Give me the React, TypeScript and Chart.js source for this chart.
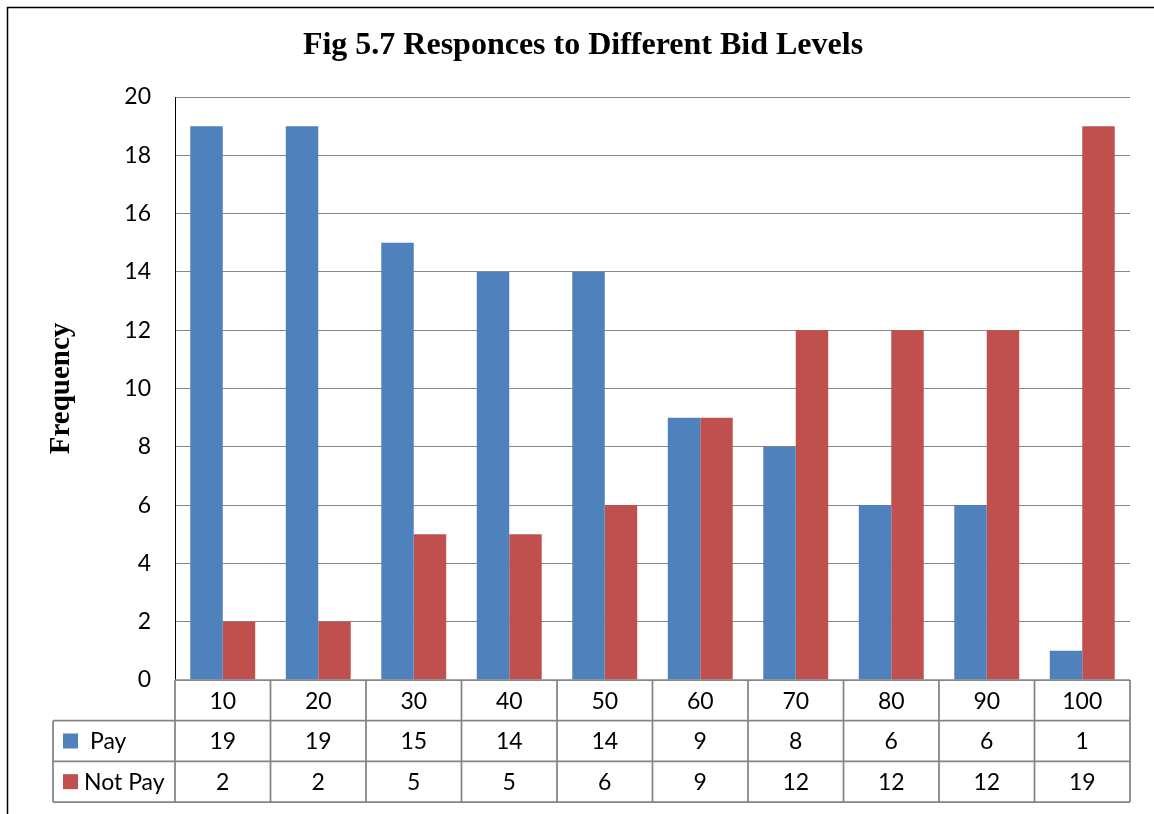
import React, { useEffect, useRef } from "react";
import { Chart, registerables } from "chart.js";

Chart.register(...registerables);

// Bid levels offered and the number of respondents for each answer
const bidLevels = ["10", "20", "30", "40", "50", "60", "70", "80", "90", "100"];
const payCounts = [19, 19, 15, 14, 14, 9, 8, 6, 6, 1];
const notPayCounts = [2, 2, 5, 5, 6, 9, 12, 12, 12, 19];
const seriesNames = ["Pay", "Not Pay"];

const yMin = 0;
const yMax = 20;
const yStep = 2;

const PAY_COLOR = "#4F81BD";
const NOT_PAY_COLOR = "#C0504D";
const TABLE_LINE = "#858585";
const GRID_LINE = "#878787";
const SANS = "Lato, 'Open Sans', sans-serif";
const SERIF = "'Liberation Serif', 'Times New Roman', serif";

const W = 1154;
const H = 814;

// Page frame and white background
const framePlugin = {
  id: "frame",
  beforeDraw(chart: any) {
    const { ctx } = chart;
    ctx.save();
    ctx.fillStyle = "#ffffff";
    ctx.fillRect(0, 0, chart.width, chart.height);
    ctx.strokeStyle = "#000000";
    ctx.lineWidth = 1.5;
    ctx.beginPath();
    ctx.moveTo(7.5, chart.height);
    ctx.lineTo(7.5, 7.5);
    ctx.lineTo(chart.width, 7.5);
    ctx.stroke();
    ctx.restore();
  },
};

// Data table under the plot, laid out on the x scale's category columns
const dataTablePlugin = {
  id: "dataTable",
  afterDraw(chart: any) {
    const { ctx, chartArea } = chart;
    const xs = chart.scales.x;
    const labels: string[] = chart.data.labels;
    const n = labels.length;
    const colW = (xs.right - xs.left) / n;
    const rowH = xs.height / 3;
    const y0 = chartArea.bottom;
    const rows = [y0, y0 + rowH, y0 + 2 * rowH, y0 + 3 * rowH];
    const headLeft = 53;

    ctx.save();
    ctx.strokeStyle = TABLE_LINE;
    ctx.lineWidth = 1.75;
    ctx.beginPath();
    ctx.moveTo(xs.left, rows[0]);
    ctx.lineTo(xs.right, rows[0]);
    for (let r = 1; r <= 3; r++) {
      ctx.moveTo(headLeft, rows[r]);
      ctx.lineTo(xs.right, rows[r]);
    }
    for (let i = 0; i <= n; i++) {
      const xx = xs.left + i * colW;
      ctx.moveTo(xx, rows[0]);
      ctx.lineTo(xx, rows[3]);
    }
    ctx.moveTo(headLeft, rows[1]);
    ctx.lineTo(headLeft, rows[3]);
    ctx.stroke();

    ctx.fillStyle = "#000000";
    ctx.font = `23px ${SANS}`;
    ctx.textAlign = "center";
    ctx.textBaseline = "middle";
    for (let i = 0; i < n; i++) {
      const cx = xs.getPixelForValue(i);
      ctx.fillText(labels[i], cx, rows[0] + rowH / 2 + 1);
      chart.data.datasets.forEach((ds: any, d: number) => {
        ctx.fillText(String(ds.data[i]), cx, rows[d + 1] + rowH / 2 + 1);
      });
    }

    // Series keys in the first column
    const textX = [90, 84];
    chart.data.datasets.forEach((ds: any, d: number) => {
      const cy = rows[d + 1] + rowH / 2;
      ctx.fillStyle = ds.backgroundColor;
      ctx.fillRect(63, cy - 7.5, 15, 15);
      ctx.fillStyle = "#000000";
      ctx.textAlign = "left";
      ctx.fillText(ds.label, textX[d], cy + 1);
    });
    ctx.restore();
  },
};

export default function App() {
  const canvasRef = useRef<HTMLCanvasElement | null>(null);

  useEffect(() => {
    if (!canvasRef.current) return;
    const chart = new Chart(canvasRef.current, {
      type: "bar",
      data: {
        labels: bidLevels,
        datasets: [
          {
            label: seriesNames[0],
            data: payCounts,
            backgroundColor: PAY_COLOR,
            categoryPercentage: 0.68,
            barPercentage: 1,
          },
          {
            label: seriesNames[1],
            data: notPayCounts,
            backgroundColor: NOT_PAY_COLOR,
            categoryPercentage: 0.68,
            barPercentage: 1,
          },
        ],
      },
      options: {
        responsive: false,
        animation: false,
        devicePixelRatio: 1,
        layout: { padding: { left: 36, right: 24, top: 0, bottom: 12 } },
        plugins: {
          legend: { display: false },
          tooltip: { enabled: false },
          title: {
            display: true,
            text: "Fig 5.7 Responces to Different Bid Levels",
            color: "#000000",
            font: { family: SERIF, size: 32, weight: "bold", lineHeight: 1.2 },
            padding: { top: 27, bottom: 31.6 },
          },
        },
        scales: {
          x: {
            position: "bottom",
            ticks: { display: false },
            grid: { display: false },
            border: { display: false },
            afterFit(scale: any) {
              scale.height = 122;
            },
          },
          y: {
            min: yMin,
            max: yMax,
            ticks: {
              stepSize: yStep,
              color: "#000000",
              padding: 24,
              font: { family: SANS, size: 23 },
            },
            grid: { color: GRID_LINE, lineWidth: 1, drawTicks: false },
            border: { display: true, color: "#000000", width: 1 },
            title: {
              display: true,
              text: "Frequency",
              color: "#000000",
              font: { family: SERIF, size: 29, weight: "bold" },
              padding: { top: 8, bottom: 0 },
            },
            afterFit(scale: any) {
              scale.width = 139;
            },
          },
        },
      },
      plugins: [framePlugin, dataTablePlugin],
    });
    return () => chart.destroy();
  }, []);

  return (
    <div style={{ position: "fixed", left: 0, top: 0, width: W, height: H, background: "#fff" }}>
      <canvas ref={canvasRef} width={W} height={H} style={{ width: W, height: H, display: "block" }} />
    </div>
  );
}
